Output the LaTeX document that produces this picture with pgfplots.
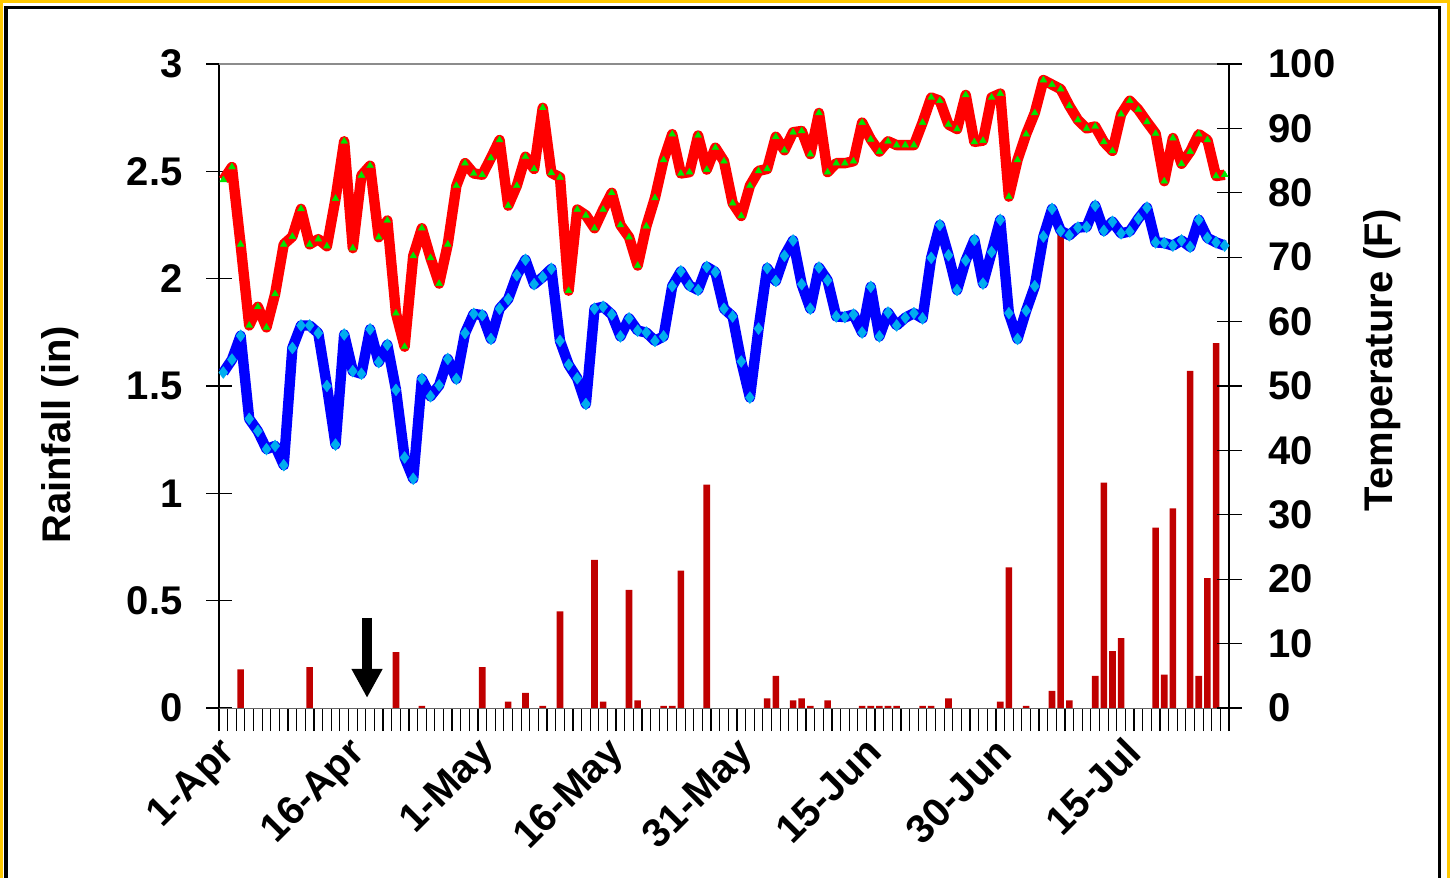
\documentclass[border=0pt]{standalone}
\usepackage{fontspec}
\setmainfont{Liberation Sans}
\usepackage{pgfplots}
\usepackage{pgfplotstable}
\pgfplotsset{compat=1.18}
\usetikzlibrary{arrows.meta}

\definecolor{rainbar}{HTML}{C00000}
\definecolor{tmaxmark}{RGB}{0,230,0}
\definecolor{framey}{RGB}{255,200,0}

% daily max / min temperature (F), day 0 = 1-Apr
\pgfplotstableread{
day tmax tmin
0 82 52.1
1 84 54.1
2 72 57.8
3 59.4 44.9
4 62.3 43
5 59.1 40.2
6 64.3 40.7
7 72 37.7
8 73.2 55.9
9 77.5 59.4
10 72 59.4
11 72.8 58.2
12 71.7 50
13 79.1 40.9
14 88 58
15 71.4 52.3
16 82.7 51.9
17 84.2 58.8
18 73.1 53.7
19 75.7 56.4
20 61.3 49.4
21 56.1 38.9
22 70.2 35.6
23 74.5 51.1
24 69.9 48.4
25 65.9 50.1
26 72 54.2
27 81.1 51.1
28 84.6 58.2
29 83 61.2
30 82.8 61
31 85.4 57.3
32 88.2 62
33 78 63.5
34 81.1 67.2
35 85.6 69.6
36 83.7 65.8
37 93.2 66.9
38 83.1 68.2
39 82.4 57
40 64.8 53.3
41 77.4 51.2
42 76.5 47.2
43 74.5 62
44 77.4 62.3
45 80 61.1
46 75 57.7
47 73.1 60.5
48 68.7 58.6
49 74.8 58.3
50 79.2 57
51 85.1 57.7
52 89.1 65.5
53 83 67.8
54 83.2 65.6
55 88.9 64.9
56 83.6 68.5
57 87 67.7
58 84.9 62
59 78.4 60.8
60 76.4 53.8
61 81.1 48.2
62 83.4 58.9
63 83.7 68.3
64 88.7 66.3
65 86.6 70.2
66 89.4 72.6
67 89.6 65.8
68 86 62
69 92.4 68.4
70 83.2 66.4
71 84.6 60.8
72 84.6 60.7
73 84.9 61.1
74 90.9 58.3
75 88.3 65.4
76 86.4 57.7
77 88 61.4
78 87.4 59.4
79 87.4 60.6
80 87.4 61.3
81 90.9 60.5
82 94.8 69.9
83 94.3 75
84 90.6 70.3
85 89.9 64.9
86 95.2 69.5
87 87.9 72.7
88 88.1 65.9
89 94.8 70.8
90 95.4 75.8
91 79.4 61.3
92 85.1 57.3
93 89.1 61.7
94 92.4 65.5
95 97.5 73.2
96 96.8 77.5
97 96.1 74.1
98 93.5 73.4
99 91.3 74.6
100 90 74.7
101 90.3 78
102 87.9 74.1
103 86.5 75.5
104 92.2 73.7
105 94.3 74
106 92.9 76
107 91 77.7
108 89.2 72.3
109 81.8 72.2
110 88.5 71.8
111 84.5 72.6
112 86.4 71.6
113 89.1 75.8
114 88.2 73
115 82.6 72.3
116 82.8 71.8
}\temps

% daily rainfall (in), days without rain left out
\pgfplotstableread{
day rain
2 0.18
10 0.19
20 0.26
23 0.01
30 0.19
33 0.03
35 0.07
37 0.01
39 0.45
43 0.69
44 0.03
47 0.55
48 0.035
51 0.01
52 0.01
53 0.64
56 1.04
63 0.045
64 0.15
66 0.035
67 0.045
68 0.01
70 0.035
74 0.01
75 0.01
76 0.01
77 0.01
78 0.01
81 0.01
82 0.01
84 0.045
90 0.03
91 0.655
93 0.01
96 0.08
97 2.22
98 0.035
101 0.15
102 1.05
103 0.265
104 0.325
108 0.84
109 0.155
110 0.93
112 1.57
113 0.15
114 0.605
115 1.70
}\rain

\newcommand{\bigfont}{\bfseries\fontsize{20bp}{24bp}\selectfont}

\pgfplotsset{
  base/.style={
    at={(109.5bp,85bp)}, anchor=south west,
    scale only axis, width=505bp, height=322bp,
    xmin=-0.5, xmax=116.5,
    tick align=center, major tick length=12.5bp, minor tick length=11.5bp,
    tick style={black, line width=0.6bp},
    ticklabel style={font=\bigfont},
    /pgf/number format/assume math mode=true,
  },
}

\begin{document}
\begin{tikzpicture}
\useasboundingbox (0,0) rectangle (725bp,439bp);
\fill[white] (0,0) rectangle (725bp,439bp);
\draw[framey, line width=1.5bp] (0.75bp,-2bp) -- (0.75bp,438.25bp) -- (724.25bp,438.25bp) -- (724.25bp,-2bp);
\draw[black, line width=1.6bp] (3bp,-2bp) -- (3bp,435.3bp) -- (719.8bp,435.3bp) -- (719.8bp,-2bp);

\begin{axis}[base,
  ymin=0, ymax=3,
  axis x line=bottom, axis y line=left,
  axis line style={-},
  x axis line style={-, black!60},
  y axis line style={-, black, line width=0.8bp},
  ytick={0,0.5,...,3},
  yticklabel style={xshift=-8.5bp},
  xtick={0,15,...,105},
  xticklabels={1-Apr,16-Apr,1-May,16-May,31-May,15-Jun,30-Jun,15-Jul},
  minor xtick={-0.5,0.5,...,116.5},
  major x tick style={draw=none},
  xticklabel style={rotate=45, anchor=north east, xshift=0.5bp, yshift=5bp},
  ylabel={Rainfall (in)},
  ylabel style={font=\bigfont, at={(axis description cs:-0.157,0.424)}, anchor=center},
  ybar, bar width=3.3bp, bar shift=0pt,
]
\draw[black!45, line width=0.8bp] (rel axis cs:0,1) -- (rel axis cs:1,1);
\addplot[fill=rainbar, draw=none] table[x=day, y=rain] {\rain};
\draw[black, line width=4.7bp, -{Triangle[width=14.5bp, length=14.5bp]}]
  (axis cs:16.65,0.42) -- (axis cs:16.65,0.047);
\end{axis}

\begin{axis}[base,
  ymin=0, ymax=100,
  axis x line=none, axis y line=right,
  axis line style={-},
  y axis line style={-, black, line width=0.8bp},
  ytick={0,10,...,100},
  yticklabel style={xshift=10bp},
  ylabel={Temperature (F)},
  ylabel style={font=\bigfont, at={(axis description cs:1.152,0.540)}, anchor=center, rotate=0},
]
\addplot[red, line width=5.2bp, line join=round,
  mark=triangle*, mark size=2bp,
  mark options={solid, fill=tmaxmark, draw=tmaxmark, line width=0.2bp}]
  table[x=day, y=tmax] {\temps};
\addplot[blue, line width=5.2bp, line join=round,
  mark=diamond*, mark size=3bp,
  mark options={solid, fill=cyan, draw=cyan, line width=0.2bp}]
  table[x=day, y=tmin] {\temps};
\end{axis}
\end{tikzpicture}
\end{document}
